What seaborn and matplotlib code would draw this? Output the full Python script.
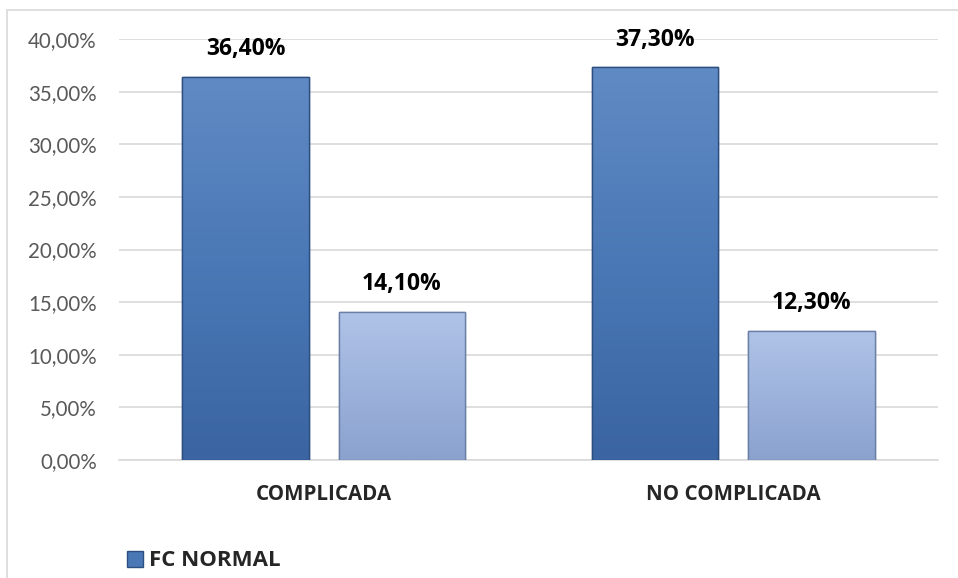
import numpy as np
import pandas as pd
import seaborn as sns
import matplotlib.pyplot as plt
from matplotlib.patches import Patch, Rectangle
from matplotlib.colors import LinearSegmentedColormap
from matplotlib.ticker import FuncFormatter


categories = ["COMPLICADA", "NO COMPLICADA"]
series_names = ["FC NORMAL", "FC ALTERADA"]
fc_normal = [36.4, 37.3]
fc_alterada = [14.1, 12.3]
y_ticks = [0, 5, 10, 15, 20, 25, 30, 35, 40]

df = pd.DataFrame({
    "categoria": categories * 2,
    "serie": [series_names[0]] * 2 + [series_names[1]] * 2,
    "valor": fc_normal + fc_alterada,
})

sns.set_style("white")
plt.rcParams["font.family"] = ["Lato", "DejaVu Sans"]
BOLD = ["Open Sans", "DejaVu Sans"]

fig = plt.figure(figsize=(9.58, 5.78), dpi=100)
ax = fig.add_axes([119 / 958, 1 - 460 / 578, 819 / 958, 421 / 578])

palette = {series_names[0]: "#4a78b6", series_names[1]: "#99afda"}
sns.barplot(data=df, x="categoria", y="valor", hue="serie", palette=palette,
            width=0.764, gap=0.19, legend=False, ax=ax, zorder=3)

# gradient fill like the office chart
grads = {
    series_names[0]: (["#608ac3", "#4a78b6", "#3a65a2"], "#2d4f80"),
    series_names[1]: (["#b0c3e7", "#9db3dc", "#8ba2cf"], "#6a7fa5"),
}
ax.set_ylim(0, 40)
for cont, name in zip(ax.containers, series_names):
    cols, edge = grads[name]
    cmap = LinearSegmentedColormap.from_list(name, cols[::-1])
    for bar in cont:
        x0, w, h = bar.get_x(), bar.get_width(), bar.get_height()
        bar.set_edgecolor(edge)
        bar.set_linewidth(1.0)
        img = ax.imshow(np.linspace(0, 1, 100).reshape(-1, 1), cmap=cmap,
                        extent=[x0, x0 + w, 0, h], origin="lower",
                        aspect="auto", zorder=3.5)
        img.set_clip_path(bar)
        ax.add_patch(Rectangle((x0, 0), w, h, fill=False, edgecolor=edge,
                               linewidth=1.0, zorder=4))
        ax.text(x0 + w / 2, h + 1.5, f"{h:.2f}%".replace(".", ","),
                ha="center", va="bottom", fontsize=16.5, fontweight="bold",
                family=BOLD, color="#000000")
ax.set_xlim(-0.5, 1.5)
ax.set_ylim(0, 40)

ax.set_yticks(y_ticks)
ax.yaxis.set_major_formatter(FuncFormatter(lambda v, p: f"{v:.2f}%".replace(".", ",")))
ax.set_xticks(range(len(categories)), labels=categories, fontweight="bold",
              family=BOLD, fontsize=14.8)
ax.grid(axis="y", color="#d9d9d9", linewidth=1.2, zorder=0)
ax.set_axisbelow(True)
ax.tick_params(axis="y", length=0, pad=16, labelsize=14.8, labelcolor="#595959")
ax.tick_params(axis="x", length=0, pad=17)
ax.set_xlabel("")
ax.set_ylabel("")
for s in ["top", "right", "left"]:
    ax.spines[s].set_visible(False)
ax.spines["bottom"].set_color("#d9d9d9")
ax.spines["bottom"].set_linewidth(1.2)

# chart area border
fig.patches.append(Rectangle((7 / 958, -0.1), 1.1, 1 - 10 / 578 + 0.1,
                             transform=fig.transFigure, fill=False,
                             edgecolor="#d9d9d9", linewidth=1.2))

handle = Patch(facecolor="#4a78b6", edgecolor="#2d4f80")
leg = fig.legend(handles=[handle], labels=[series_names[0]], loc="center left",
                 bbox_to_anchor=(107 / 958, 1 - 561 / 578), frameon=False,
                 handlelength=0.72, handleheight=0.72, handletextpad=0.25,
                 prop={"family": BOLD, "weight": "bold", "size": 16})

fig.savefig("out.png", dpi=100)
